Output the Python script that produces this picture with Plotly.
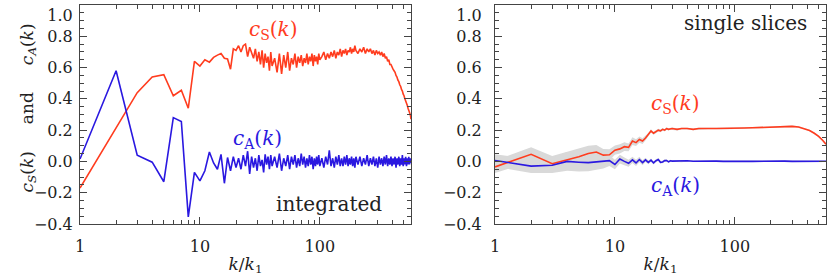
import math
import plotly.graph_objects as go

# ---------------- data ----------------
# left panel: integrated
k_int = [1, 2, 3, 4, 5, 6, 7, 8, 9, 10, 11, 12, 13, 14, 15, 16, 17, 18, 19, 20,
         21, 22, 23, 24, 25, 26, 27, 28, 29, 30, 31, 32, 33, 34, 35, 36, 37, 38, 39, 40,
         42, 44, 46, 48, 50, 52, 54, 56, 58, 60, 62, 64, 66, 68, 70, 72, 74, 76, 78, 80,
         82, 84, 86, 88, 90, 92, 94, 96, 98, 100,
         104, 108, 112, 116, 120, 124, 128, 132, 136, 140, 144, 148, 152, 156, 160,
         164, 168, 172, 176, 180, 184, 188, 192, 196, 200,
         208, 216, 224, 232, 240, 248, 256, 264, 272, 280, 288, 296, 304, 312, 320,
         328, 336, 344, 352, 360, 368, 376, 384, 392, 400, 408, 416, 424, 432, 440,
         448, 456, 464, 472, 480, 488, 496, 504, 512, 520, 528, 536, 544, 552, 560,
         568, 576]

cS_int = [-0.17, 0.21, 0.44, 0.54, 0.555, 0.42, 0.455, 0.34, 0.64, 0.61,
          0.65, 0.635, 0.665, 0.68, 0.69, 0.66, 0.655, 0.59, 0.72, 0.71,
          0.74, 0.70, 0.74, 0.75, 0.67, 0.73, 0.70, 0.66, 0.72, 0.64,
          0.70, 0.62, 0.71, 0.60, 0.69, 0.63, 0.67, 0.58, 0.70, 0.61,
          0.66, 0.57, 0.69, 0.56, 0.68, 0.60, 0.70, 0.58, 0.66, 0.62,
          0.69, 0.60, 0.67, 0.63, 0.68, 0.61, 0.66, 0.63, 0.69, 0.62,
          0.67, 0.64, 0.69, 0.61, 0.68, 0.64, 0.67, 0.62, 0.69, 0.65,
          0.67, 0.70, 0.65, 0.69, 0.66, 0.70, 0.67, 0.71, 0.66, 0.70,
          0.68, 0.72, 0.67, 0.71, 0.69, 0.72, 0.68, 0.71, 0.70, 0.73,
          0.69, 0.72, 0.70, 0.74, 0.71,
          0.69, 0.72, 0.70, 0.73, 0.69, 0.72, 0.70, 0.72, 0.69, 0.71,
          0.68, 0.71, 0.69, 0.70, 0.68, 0.70, 0.67, 0.69, 0.66, 0.67,
          0.64, 0.65, 0.62, 0.62, 0.60, 0.59, 0.58, 0.57, 0.55, 0.54,
          0.52, 0.51, 0.49, 0.48, 0.46, 0.45, 0.43, 0.42, 0.40, 0.39,
          0.37, 0.36, 0.34, 0.33, 0.31, 0.30, 0.27]

cA_int = [0.015, 0.58, 0.04, -0.005, -0.13, 0.28, 0.255, -0.355, -0.07, -0.125,
          -0.06, 0.06, -0.01, -0.05, 0.045, -0.14, 0.025, -0.06, 0.03, -0.04,
          0.02, -0.05, 0.04, -0.03, 0.065, -0.08, 0.03, -0.04, 0.02, -0.06,
          0.04, -0.03, 0.01, -0.07, 0.045, -0.02, 0.03, -0.05, 0.04, -0.03,
          0.03, -0.04, 0.05, -0.06, 0.02, -0.03, 0.04, -0.05, 0.03, -0.02,
          0.04, -0.04, 0.02, -0.03, 0.05, -0.02, 0.03, -0.04, 0.02, -0.03,
          0.04, -0.02, 0.03, -0.05, 0.02, -0.03, 0.03, -0.02, 0.04, -0.03,
          0.02, -0.04, 0.03, -0.02, 0.07, -0.03, 0.02, -0.04, 0.03, -0.02,
          0.04, -0.03, 0.02, -0.03, 0.03, -0.02, 0.04, -0.03, 0.02, -0.02,
          0.03, -0.03, 0.02, -0.04, 0.03,
          -0.02, 0.03, -0.03, 0.02, -0.02, 0.04, -0.03, 0.02, -0.02, 0.03,
          -0.03, 0.02, -0.04, 0.03, -0.02, 0.02, -0.03, 0.03, -0.02, 0.04,
          -0.03, 0.02, -0.02, 0.03, -0.03, 0.02, -0.02, 0.03, -0.04, 0.02,
          -0.02, 0.03, -0.03, 0.02, -0.02, 0.04, -0.03, 0.02, -0.02, 0.03,
          -0.03, 0.02, -0.02, 0.03, -0.02, 0.02, -0.01]

# right panel: single slices
k_sl = [1, 2, 3, 4, 5, 6, 7, 8, 9, 10, 11, 12, 13, 14, 15, 16, 17, 18, 19, 20,
        21, 22, 23, 24, 25, 26, 27, 28, 29, 30,
        33, 36, 40, 45, 50, 55, 60, 70, 80, 90, 100, 120, 140, 160, 180, 200,
        230, 260, 300, 340, 380, 420, 460, 500, 540, 576]

cS_sl = [-0.035, 0.045, -0.015, 0.008, 0.03, 0.05, 0.06, 0.04, 0.042, 0.072,
         0.08, 0.094, 0.09, 0.13, 0.12, 0.14, 0.13, 0.15, 0.17, 0.195,
         0.18, 0.19, 0.20, 0.195, 0.205, 0.20, 0.21, 0.205, 0.21, 0.21,
         0.205, 0.21, 0.21, 0.205, 0.21, 0.208, 0.21, 0.21, 0.212, 0.21,
         0.212, 0.214, 0.215, 0.217, 0.218, 0.22, 0.222, 0.223, 0.224, 0.22,
         0.21, 0.198, 0.18, 0.16, 0.135, 0.11]

cA_sl = [0.006, -0.03, -0.025, 0.0, -0.005, -0.008, -0.003, 0.0, 0.005, -0.02,
         0.015, 0.0, -0.012, 0.01, -0.01, 0.012, -0.008, 0.01, -0.006, 0.008,
         -0.01, 0.004, 0.012, -0.006, -0.004, 0.005, 0.006, -0.003, 0.004, 0.002,
         0.003, 0.0, 0.004, 0.001, 0.002, 0.0, 0.001, 0.002, 0.0, 0.001,
         0.002, 0.001, 0.0, 0.001, 0.002, 0.001, 0.001, 0.002, 0.0, 0.001,
         0.002, 0.001, 0.001, 0.002, 0.001, 0.001]

errS_sl = [0.04, 0.045, 0.05, 0.055, 0.055, 0.05, 0.045, 0.04, 0.035, 0.03,
           0.03, 0.028, 0.025, 0.025, 0.022, 0.02, 0.018, 0.015, 0.012, 0.01,
           0.01, 0.01, 0.009, 0.009, 0.008, 0.008, 0.008, 0.007, 0.007, 0.007,
           0.007, 0.006, 0.006, 0.006, 0.006, 0.005, 0.005, 0.005, 0.005, 0.005,
           0.005, 0.005, 0.005, 0.005, 0.005, 0.005, 0.005, 0.005, 0.005, 0.005,
           0.005, 0.005, 0.005, 0.005, 0.005, 0.005]

errA_sl = [0.04, 0.045, 0.05, 0.06, 0.06, 0.055, 0.05, 0.045, 0.035, 0.03,
           0.028, 0.025, 0.022, 0.02, 0.02, 0.018, 0.016, 0.014, 0.012, 0.01,
           0.01, 0.009, 0.009, 0.008, 0.008, 0.007, 0.007, 0.007, 0.006, 0.006,
           0.006, 0.006, 0.005, 0.005, 0.005, 0.005, 0.005, 0.005, 0.005, 0.005,
           0.005, 0.005, 0.005, 0.005, 0.005, 0.005, 0.005, 0.005, 0.005, 0.005,
           0.005, 0.005, 0.005, 0.005, 0.005, 0.005]

x_major = [1, 10, 100]
x_major_text = ["1", "10", "100"]
x_minor = [2, 3, 4, 5, 6, 7, 8, 9, 20, 30, 40, 50, 60, 70, 80, 90, 200, 300, 400, 500]
y_major = [-0.4, -0.2, 0.0, 0.2, 0.4, 0.6, 0.8, 1.0]
# top label is pushed below the frame edge (as in the original) by a leading line break
y_major_text = ["\u22120.4", "\u22120.2", "0.0", "0.2", "0.4", "0.6", "0.8", "<br>1.0"]

# ---------------- style ----------------
RED = "#ff3c1e"
BLUE = "#2a18e0"
GREY = "#d9d9d9"
AXC = "#444444"
TXT = "#222222"
FONT = "DejaVu Serif"
K_MAX = 576

fig = go.Figure()

# grey uncertainty bands (right panel)
for c, e in ((cS_sl, errS_sl), (cA_sl, errA_sl)):
    up = [a + b for a, b in zip(c, e)]
    lo = [a - b for a, b in zip(c, e)]
    fig.add_trace(go.Scatter(x=k_sl + k_sl[::-1], y=up + lo[::-1], fill="toself",
                             fillcolor=GREY, line=dict(width=0), mode="lines",
                             xaxis="x2", yaxis="y2", hoverinfo="skip", showlegend=False))

fig.add_trace(go.Scatter(x=k_int, y=cS_int, mode="lines", line=dict(color=RED, width=1.6),
                         xaxis="x", yaxis="y", showlegend=False))
fig.add_trace(go.Scatter(x=k_int, y=cA_int, mode="lines", line=dict(color=BLUE, width=1.6),
                         xaxis="x", yaxis="y", showlegend=False))
fig.add_trace(go.Scatter(x=k_sl, y=cS_sl, mode="lines", line=dict(color=RED, width=1.6),
                         xaxis="x2", yaxis="y2", showlegend=False))
fig.add_trace(go.Scatter(x=k_sl, y=cA_sl, mode="lines", line=dict(color=BLUE, width=1.6),
                         xaxis="x2", yaxis="y2", showlegend=False))

tickfont = dict(family=FONT, size=16, color=TXT)


def xax(domain, anchor):
    return dict(domain=domain, anchor=anchor, type="log", range=[0, math.log10(K_MAX)],
                tickvals=x_major, ticktext=x_major_text, ticks="inside", ticklen=7,
                tickcolor=AXC, showline=True, linecolor=AXC, linewidth=1, mirror="ticks",
                showgrid=False, zeroline=False, tickfont=tickfont, ticklabelstandoff=8,
                automargin=False, ticklabeloverflow="allow",
                minor=dict(tickvals=x_minor, ticks="inside", ticklen=4, tickcolor=AXC,
                           showgrid=False),
                title=dict(text="<i>k</i>/<i>k</i><sub>1</sub>",
                           font=dict(family=FONT, size=17, color=TXT), standoff=2))


def yax(domain, anchor, standoff):
    return dict(domain=domain, anchor=anchor, range=[-0.4005, 1.0005],
                tickvals=y_major, ticktext=y_major_text, ticks="inside", ticklen=7,
                tickcolor=AXC, showline=True, linecolor=AXC, linewidth=1, mirror="ticks",
                showgrid=False, zeroline=False, tickfont=tickfont,
                ticklabelstandoff=standoff, automargin=False, ticklabeloverflow="allow",
                minor=dict(dtick=0.05, tick0=0, ticks="inside", ticklen=4, tickcolor=AXC,
                           showgrid=False))


W, L, R = 830, 80, 4
plot_w = W - L - R
d1 = [0, 331 / plot_w]
d2 = [(495 - L) / plot_w, 1]

fig.update_layout(
    width=W, height=277,
    margin=dict(l=L, r=R, t=5, b=53, autoexpand=False),
    paper_bgcolor="white", plot_bgcolor="white",
    xaxis=xax(d1, "y"), yaxis=yax([0, 1], "x", 3),
    xaxis2=xax(d2, "y2"), yaxis2=yax([0, 1], "x2", 9),
    showlegend=False,
)

afont = dict(family=FONT, size=20)
nb = "\u00a0" * 5
annotations = [
    dict(x=1.61, y=0.84, xref="x", yref="y", text="<i>c</i><sub>S</sub>(<i>k</i>)",
         font=dict(color=RED, **afont), showarrow=False),
    dict(x=1.483, y=0.143, xref="x", yref="y", text="<i>c</i><sub>A</sub>(<i>k</i>)",
         font=dict(color=BLUE, **afont), showarrow=False),
    dict(x=2.075, y=-0.272, xref="x", yref="y", text="integrated",
         font=dict(color=TXT, **afont), showarrow=False),
    dict(x=2.092, y=0.885, xref="x2", yref="y2", text="single slices",
         font=dict(color=TXT, **afont), showarrow=False),
    dict(x=1.508, y=0.37, xref="x2", yref="y2", text="<i>c</i><sub>S</sub>(<i>k</i>)",
         font=dict(color=RED, **afont), showarrow=False),
    dict(x=1.508, y=-0.16, xref="x2", yref="y2", text="<i>c</i><sub>A</sub>(<i>k</i>)",
         font=dict(color=BLUE, **afont), showarrow=False),
    dict(x=-(L - 15) / plot_w, y=0.53, xref="paper", yref="paper", textangle=-90,
         text="<i>c</i><sub><i>S</i></sub>(<i>k</i>)" + nb + "and" + nb +
              "<i>c</i><sub><i>A</i></sub>(<i>k</i>)",
         font=dict(family=FONT, size=17, color=TXT), showarrow=False),
]
fig.update_layout(annotations=annotations)

fig.write_html("out.html",
               config={"displayModeBar": False},
               post_script="document.body.style.margin='0';"
                           "document.body.style.overflow='hidden';")
